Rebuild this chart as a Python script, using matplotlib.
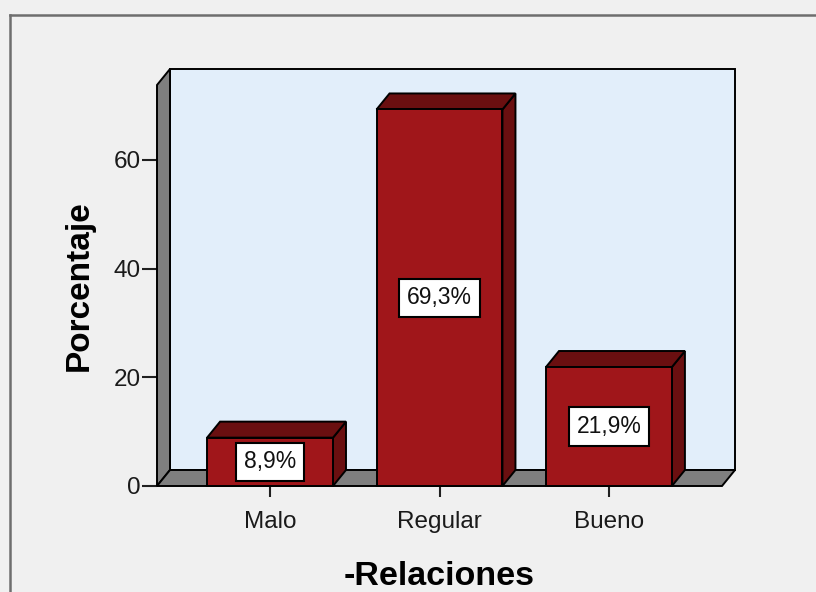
import numpy as np
import matplotlib
matplotlib.use("Agg")
from matplotlib import pyplot as plt
from matplotlib.patches import Polygon
from matplotlib.lines import Line2D
from matplotlib import transforms

# datos del gráfico
categorias = ["Malo", "Regular", "Bueno"]
porcentajes = [8.9, 69.3, 21.9]
etiquetas = ["8,9%", "69,3%", "21,9%"]
ticks_y = [0, 20, 40, 60]

plt.rcParams['font.family'] = ['Liberation Sans', 'DejaVu Sans']

fig = plt.figure(figsize=(8.16, 5.92), dpi=100, facecolor="#f0f0f0")
ax = fig.add_axes([157/816, 1-486/592, 565/816, 401/592])
ax.set_facecolor("none")
ax.set_xlim(-0.667, 2.667)
ax.set_ylim(0, 73.8)
for s in ax.spines.values():
    s.set_visible(False)

DX, DY = 13, 16   # profundidad 3D en pixeles
ident = transforms.IdentityTransform()

def px(x, y, fondo=False):
    p = ax.transData.transform((x, y))
    if fondo:
        p = p + np.array([DX, DY])
    return p

def poligono(puntos, color, z):
    ax.add_patch(Polygon(puntos, closed=True, facecolor=color, edgecolor="black",
                         linewidth=1.4, transform=ident, clip_on=False, zorder=z))

x0, x1 = ax.get_xlim()
y0, y1 = ax.get_ylim()

# pared del fondo, pared lateral y piso
poligono([px(x0, y0, True), px(x1, y0, True), px(x1, y1, True), px(x0, y1, True)], "#e2eefa", 1)
poligono([px(x0, y0), px(x0, y1), px(x0, y1, True), px(x0, y0, True)], "#7f7f7f", 2)
poligono([px(x0, y0), px(x1, y0), px(x1, y0, True), px(x0, y0, True)], "#7f7f7f", 2)

# barras 3D
ancho = 0.743
pos = np.arange(len(categorias))
for i, (c, v) in enumerate(zip(pos, porcentajes)):
    l, r = c - ancho/2, c + ancho/2
    poligono([px(r, 0), px(r, v), px(r, v, True), px(r, 0, True)], "#6a0f10", 3)
    poligono([px(l, v), px(r, v), px(r, v, True), px(l, v, True)], "#6a0f10", 3)
    poligono([px(l, 0), px(r, 0), px(r, v), px(l, v)], "#a0161a", 4)
    ax.text(c, v/2, etiquetas[i], ha="center", va="center", fontsize=16.5, zorder=6,
            color="#111111",
            bbox=dict(boxstyle="square,pad=0.33", fc="white", ec="black", lw=1.5))

ax.set_xticks(pos)
ax.set_xticklabels(categorias)
ax.set_yticks(ticks_y)
ax.tick_params(axis="both", width=1.5, color="#202020", labelsize=17.5,
               labelcolor="#1a1a1a")
ax.tick_params(axis="y", length=10.5, pad=1)
ax.tick_params(axis="x", length=8, pad=10)

ax.set_ylabel("Porcentaje", fontsize=24, fontweight="bold", labelpad=14)
ax.set_xlabel("-Relaciones", fontsize=24.5, fontweight="bold", labelpad=20)

# marco exterior
fig.add_artist(Line2D([9.5/816, 9.5/816], [0, 1-14.5/592], color="#6e6e6e", lw=1.8))
fig.add_artist(Line2D([9.5/816, 1], [1-14.5/592, 1-14.5/592], color="#6e6e6e", lw=1.8))

fig.savefig("out.png", dpi=100, facecolor=fig.get_facecolor())
